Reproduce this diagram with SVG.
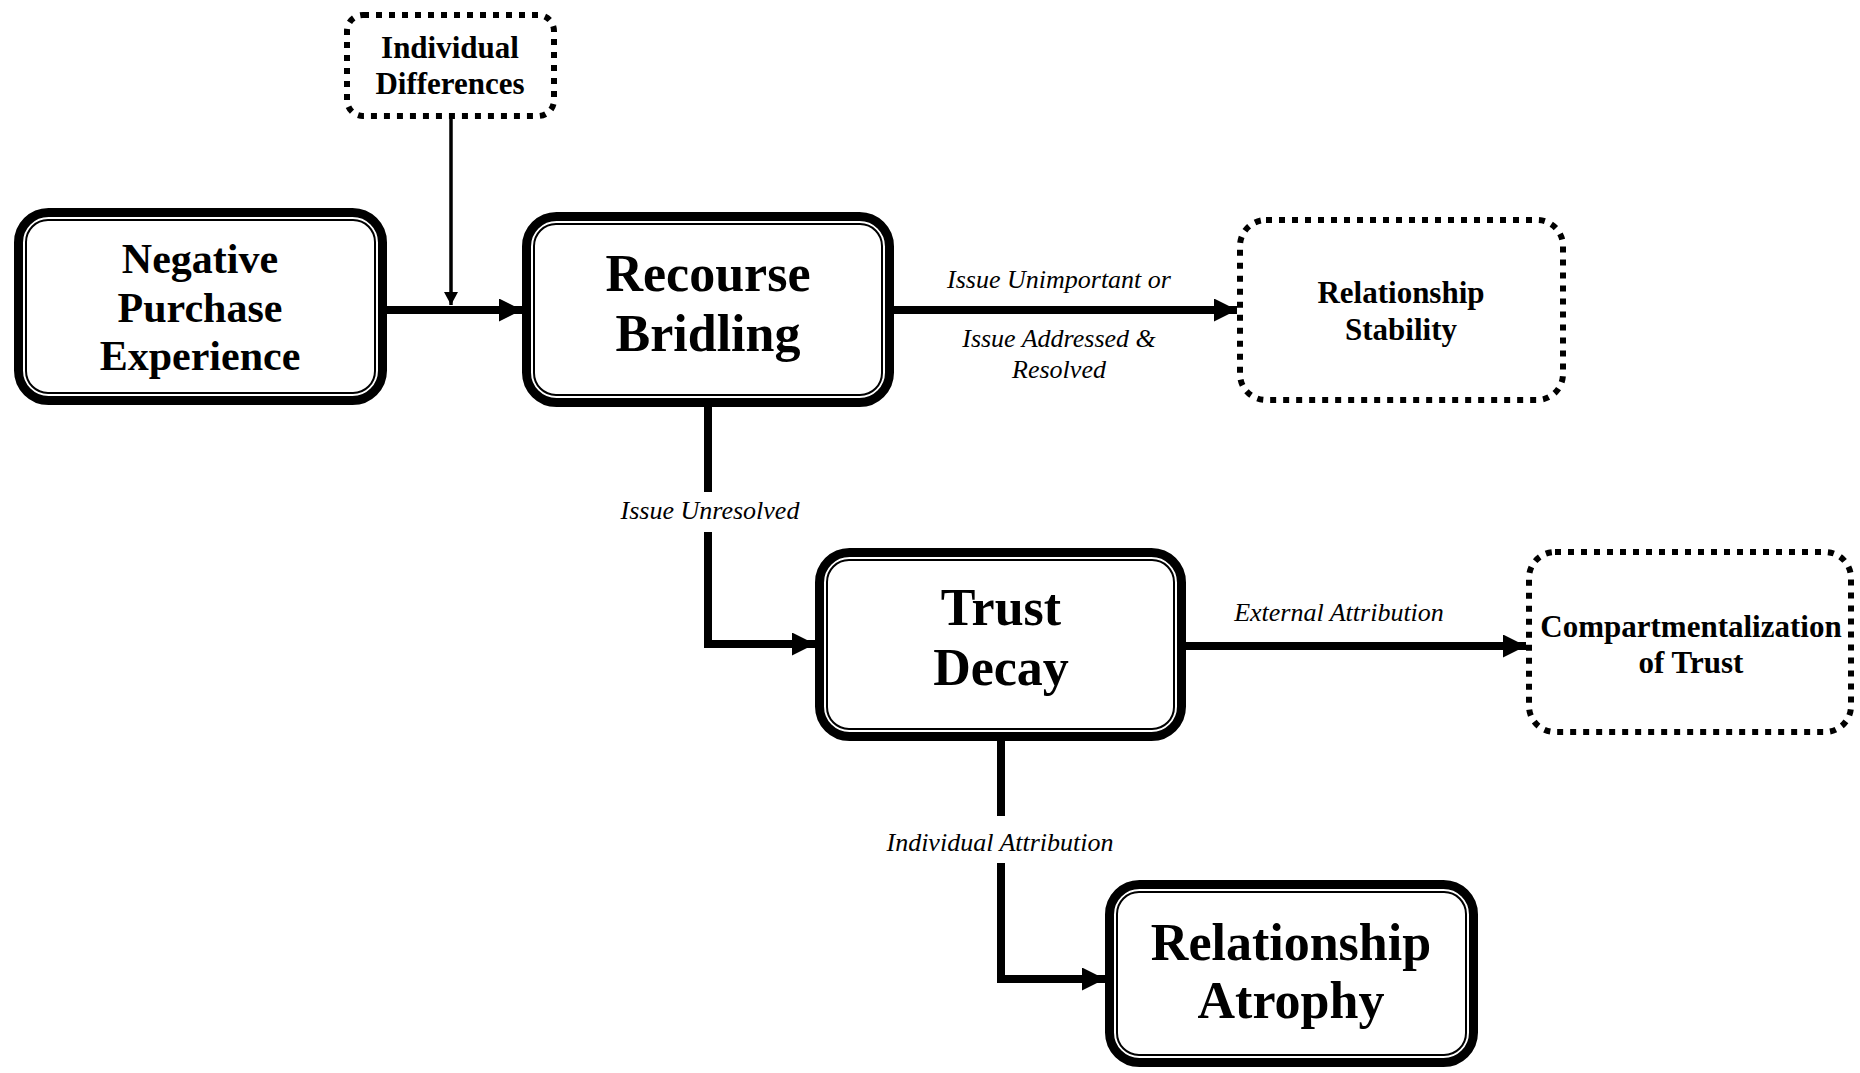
<svg xmlns="http://www.w3.org/2000/svg" width="1860" height="1073" viewBox="0 0 1860 1073">
<style>
.outer{fill:#fff;stroke:#000;stroke-width:9}
.inner{fill:none;stroke:#000;stroke-width:2}
.dot{fill:#fff;stroke:#000;stroke-width:6;stroke-dasharray:6 7}
.big{font-family:"Liberation Serif","Times New Roman",serif;font-weight:bold;font-size:52px;text-anchor:middle;fill:#000}
.mid{font-family:"Liberation Serif","Times New Roman",serif;font-weight:bold;font-size:42px;text-anchor:middle;fill:#000}
.sm{font-family:"Liberation Serif","Times New Roman",serif;font-weight:bold;font-size:31px;text-anchor:middle;fill:#000}
.lab{font-family:"Liberation Serif","Times New Roman",serif;font-style:italic;font-size:26px;text-anchor:middle;fill:#000}
.con{fill:none;stroke:#000;stroke-width:8}
.thin{fill:none;stroke:#000;stroke-width:3.5}
</style>
<defs>
<marker id="ah" markerUnits="userSpaceOnUse" markerWidth="23" markerHeight="23" refX="23" refY="11.5" orient="auto"><path d="M0,0 L23,11.5 L0,23 z" fill="#000"/></marker>
<marker id="ahs" markerUnits="userSpaceOnUse" markerWidth="13" markerHeight="14" refX="13" refY="7" orient="auto"><path d="M0,0 L13,7 L0,14 z" fill="#000"/></marker>
</defs>
<rect width="1860" height="1073" fill="#fff"/>
<g id="connectors">
<path class="con" d="M387,310 H522" marker-end="url(#ah)"/>
<path class="thin" d="M451,119 V305" marker-end="url(#ahs)"/>
<path class="con" d="M894,310 H1237" marker-end="url(#ah)"/>
<path class="con" d="M708,407 V492"/>
<path class="con" d="M708,532 V644 H815" marker-end="url(#ah)"/>
<path class="con" d="M1186,646 H1526" marker-end="url(#ah)"/>
<path class="con" d="M1001,741 V816"/>
<path class="con" d="M1001,863 V979 H1105" marker-end="url(#ah)"/>
<text class="lab" x="1059" y="288">Issue Unimportant or</text>
<text class="lab" x="1059" y="347">Issue Addressed &amp;</text>
<text class="lab" x="1059" y="378">Resolved</text>
<text class="lab" x="710" y="519">Issue Unresolved</text>
<text class="lab" x="1339" y="621">External Attribution</text>
<text class="lab" x="1000" y="851">Individual Attribution</text>
</g>
<g id="individual-differences">
<rect class="dot" x="347" y="15" width="207" height="101" rx="16"/>
<text class="sm" x="450" y="58">Individual</text>
<text class="sm" x="450" y="94">Differences</text>
</g>
<g id="negative-purchase-experience">
<rect class="outer" x="18.5" y="212.5" width="364" height="188" rx="30"/>
<rect class="inner" x="26" y="220" width="349" height="173" rx="22"/>
<text class="mid" x="200" y="273">Negative</text>
<text class="mid" x="200" y="322">Purchase</text>
<text class="mid" x="200" y="370">Experience</text>
</g>
<g id="recourse-bridling">
<rect class="outer" x="526.5" y="216.5" width="363" height="186" rx="30"/>
<rect class="inner" x="534" y="224" width="348" height="171" rx="22"/>
<text class="big" x="708" y="291">Recourse</text>
<text class="big" x="708" y="351">Bridling</text>
</g>
<g id="relationship-stability">
<rect class="dot" x="1240" y="220" width="323" height="180" rx="26"/>
<text class="sm" x="1401" y="303">Relationship</text>
<text class="sm" x="1401" y="340">Stability</text>
</g>
<g id="trust-decay">
<rect class="outer" x="819.5" y="552.5" width="362" height="184" rx="30"/>
<rect class="inner" x="827" y="560" width="347" height="169" rx="22"/>
<text class="big" x="1001" y="625">Trust</text>
<text class="big" x="1001" y="685">Decay</text>
</g>
<g id="compartmentalization-of-trust">
<rect class="dot" x="1529" y="552" width="322" height="180" rx="26"/>
<text class="sm" x="1691" y="637">Compartmentalization</text>
<text class="sm" x="1691" y="673">of Trust</text>
</g>
<g id="relationship-atrophy">
<rect class="outer" x="1109.5" y="884.5" width="364" height="178" rx="30"/>
<rect class="inner" x="1117" y="892" width="349" height="163" rx="22"/>
<text class="big" x="1291" y="960">Relationship</text>
<text class="big" x="1291" y="1018">Atrophy</text>
</g>
</svg>
